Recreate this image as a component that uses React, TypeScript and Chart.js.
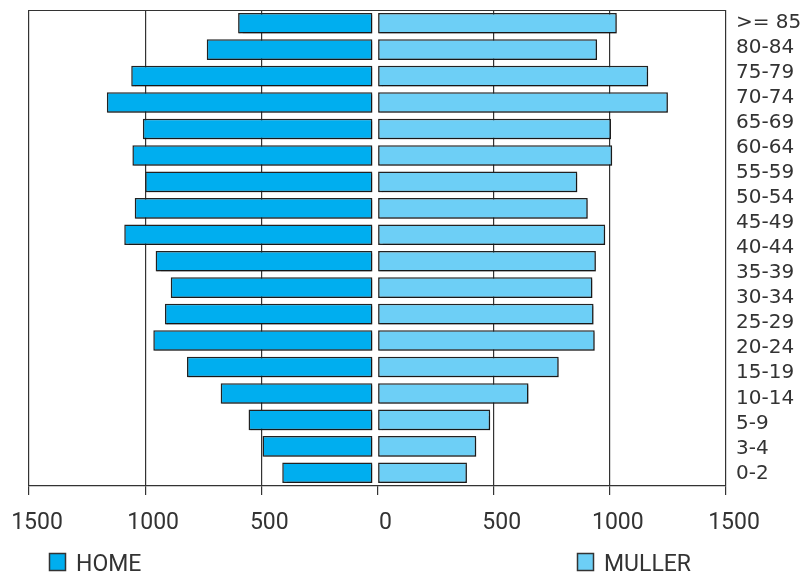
import React, { useEffect, useRef } from "react";
import { Chart, registerables } from "chart.js";

Chart.register(...registerables);

// Tick labels on the right (top to bottom)
const ageLabels = [
  ">= 85", "80-84", "75-79", "70-74", "65-69", "60-64", "55-59", "50-54", "45-49",
  "40-44", "35-39", "30-34", "25-29", "20-24", "15-19", "10-14", "5-9", "3-4", "0-2",
];

// Bar rows (top to bottom) – the original draws 18 bars
const barRows = [
  "r1", "r2", "r3", "r4", "r5", "r6", "r7", "r8", "r9",
  "r10", "r11", "r12", "r13", "r14", "r15", "r16", "r17", "r18",
];

const homeValues = [600, 735, 1060, 1165, 1010, 1055, 1000, 1045, 1090, 955, 890, 915, 965, 820, 675, 555, 495, 410];
const mullerValues = [1030, 945, 1165, 1250, 1005, 1010, 860, 905, 980, 940, 925, 930, 935, 780, 650, 485, 425, 385];

const seriesNames = ["HOME", "MULLER"];
const xTicks = [-1500, -1000, -500, 0, 500, 1000, 1500];

const HOME_COLOR = "#00AEEF";
const MULLER_COLOR = "#6DCFF6";
const LINE = "#333333";
const CENTER_GAP = 22;

export default function App() {
  const ref = useRef<HTMLCanvasElement | null>(null);

  useEffect(() => {
    if (!ref.current) return;

    const shadowPlugin = {
      id: "barShadow",
      beforeDatasetsDraw(chart: any) {
        const c = chart.ctx;
        c.save();
        c.shadowColor = "rgba(0,0,0,0.3)";
        c.shadowOffsetX = 1;
        c.shadowOffsetY = 2;
        c.shadowBlur = 1;
      },
      afterDatasetsDraw(chart: any) {
        chart.ctx.restore();
      },
    };

    const framePlugin = {
      id: "frame",
      afterDraw(chart: any) {
        const c = chart.ctx;
        const a = chart.chartArea;
        c.save();
        c.strokeStyle = LINE;
        c.lineWidth = 1.2;
        c.beginPath();
        c.moveTo(a.left, Math.round(a.top) + 0.5);
        c.lineTo(a.right, Math.round(a.top) + 0.5);
        c.stroke();
        // legend
        const items = [
          { name: seriesNames[0], color: HOME_COLOR, x: 49 },
          { name: seriesNames[1], color: MULLER_COLOR, x: 577 },
        ];
        c.font = "23px Roboto";
        c.textBaseline = "alphabetic";
        c.textAlign = "left";
        for (const it of items) {
          c.fillStyle = it.color;
          c.fillRect(it.x, 553, 17, 18);
          c.strokeStyle = LINE;
          c.lineWidth = 1.5;
          c.strokeRect(it.x + 0.5, 553.5, 16, 17);
          c.fillStyle = LINE;
          c.fillText(it.name, it.x + 27, 571);
        }
        c.restore();
      },
    };

    const chart = new Chart(ref.current, {
      type: "bar",
      data: {
        labels: barRows,
        datasets: [
          {
            label: seriesNames[0],
            data: homeValues.map((v) => [-v, -CENTER_GAP]) as any,
            backgroundColor: HOME_COLOR,
            borderColor: "#222",
            borderWidth: 1.5,
            borderSkipped: false,
            grouped: false,
            barPercentage: 0.78,
            categoryPercentage: 1,
          },
          {
            label: seriesNames[1],
            data: mullerValues,
            backgroundColor: MULLER_COLOR,
            borderColor: "#222",
            borderWidth: 1.5,
            borderSkipped: false,
            grouped: false,
            barPercentage: 0.78,
            categoryPercentage: 1,
          },
        ],
      },
      options: {
        indexAxis: "y",
        animation: false,
        responsive: false,
        layout: { padding: { left: 29, top: 10, right: 0, bottom: 0 } },
        plugins: {
          legend: { display: false },
          tooltip: { enabled: false },
        },
        scales: {
          x: {
            type: "linear",
            min: -1500,
            max: 1500,
            z: 1,
            afterBuildTicks(scale: any) {
              scale.ticks = xTicks.map((v) => ({ value: v }));
            },
            afterFit(scale: any) {
              scale.height = 89;
              scale.paddingLeft = 0;
              scale.paddingRight = 0;
            },
            grid: {
              color: (ctx: any) => (ctx.tick && ctx.tick.value === 0 ? "rgba(0,0,0,0)" : LINE),
              tickColor: LINE,
              lineWidth: 1.2,
              tickLength: 9,
            },
            border: { display: true, color: LINE, width: 1.2 },
            ticks: {
              color: LINE,
              font: { family: "Roboto", size: 23 },
              padding: 14,
              labelOffset: 8,
              maxRotation: 0,
              autoSkip: false,
              callback: (v: any) => String(Math.abs(Number(v))),
            },
          },
          y: {
            type: "category",
            display: false,
            offset: true,
          },
          y2: {
            type: "category",
            axis: "y",
            position: "right",
            labels: ageLabels,
            offset: true,
            afterFit(scale: any) {
              scale.width = 80;
              scale.paddingTop = 0;
              scale.paddingBottom = 0;
            },
            grid: { display: false, drawTicks: false },
            border: { display: false },
            ticks: {
              color: LINE,
              font: { family: "DejaVu Sans", size: 20 },
              padding: 10,
              autoSkip: false,
            },
          },
        } as any,
      },
      plugins: [shadowPlugin, framePlugin],
    });

    return () => chart.destroy();
  }, []);

  return (
    <div style={{ position: "fixed", left: 0, top: 0, width: 806, height: 575, background: "#fff" }}>
      <canvas ref={ref} width={806} height={575} style={{ width: 806, height: 575 }} />
    </div>
  );
}
